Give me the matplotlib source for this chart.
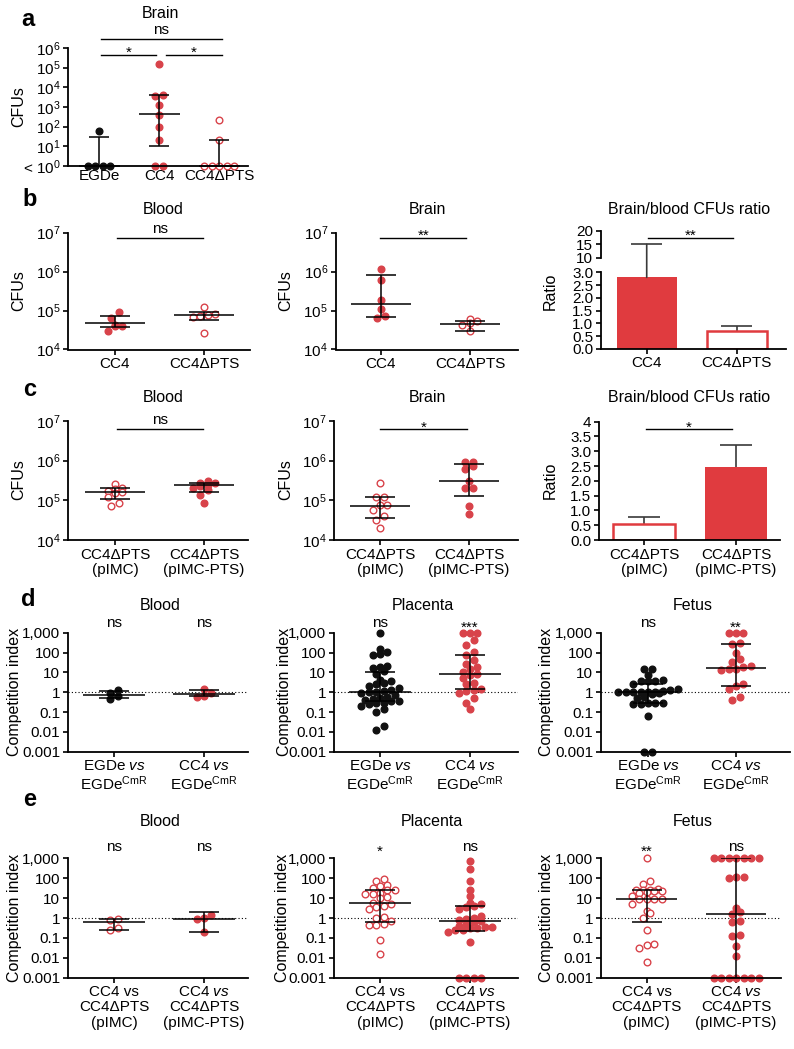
import numpy as np
import matplotlib
matplotlib.use("Agg")
import matplotlib.pyplot as plt
import matplotlib.transforms as mtrans
from matplotlib.patches import ConnectionPatch
from matplotlib.ticker import FixedLocator, NullLocator

W, H, DPI = 794, 1049, 100
RED = "#d8434a"
BAR_RED = "#e03b3f"
ERR_GREY = "#3a3a3a"
FS = 11

plt.rcParams["font.family"] = ["Liberation Sans", "DejaVu Sans"]
plt.rcParams["mathtext.fontset"] = "custom"
plt.rcParams["mathtext.rm"] = "Liberation Sans"
plt.rcParams["mathtext.it"] = "Liberation Sans:italic"
plt.rcParams["mathtext.bf"] = "Liberation Sans:bold"

# ---------------- data ----------------
# a: brain CFUs (1 = below detection limit)
a_groups = ["EGDe", "CC4", "CC4ΔPTS"]
a_egde = [60, 1, 1, 1, 1]
a_cc4 = [1.5e5, 4000, 3700, 1200, 400, 100, 20, 1, 1]
a_pts = [220, 20, 1, 1, 1, 1, 1]
a_med = [1, 420, 1]
a_lo = [1, 10, 1]
a_hi = [31, 4000, 20]

# b: CC4 vs CC4ΔPTS
b_groups = ["CC4", "CC4ΔPTS"]
b_blood_cc4 = [9e4, 6.6e4, 4.3e4, 4.1e4, 3.9e4, 3.0e4]
b_blood_pts = [1.2e5, 8e4, 7.8e4, 7.2e4, 6.8e4, 2.6e4]
b_blood_med = [4.8e4, 7.6e4]
b_blood_lo = [3.8e4, 5.7e4]
b_blood_hi = [7.3e4, 9e4]
b_brain_cc4 = [1.17e6, 6e5, 1.9e5, 1.1e5, 7.3e4, 6.3e4]
b_brain_pts = [6.2e4, 5.4e4, 4.8e4, 4.3e4, 3e4]
b_brain_med = [1.5e5, 4.4e4]
b_brain_lo = [6.8e4, 3e4]
b_brain_hi = [8e5, 5.5e4]
b_ratio = [2.8, 0.71]
b_ratio_err = [15, 0.9]

# c: CC4ΔPTS complemented
c_groups = ["CC4ΔPTS\n(pIMC)", "CC4ΔPTS\n(pIMC-PTS)"]
c_blood_pimc = [2.6e5, 2.0e5, 1.9e5, 1.7e5, 1.6e5, 1.5e5, 1.2e5, 8.8e4, 7.2e4]
c_blood_pts = [3.0e5, 2.8e5, 2.7e5, 2.5e5, 2.3e5, 2.0e5, 1.8e5, 1.4e5, 8.7e4]
c_blood_med = [1.6e5, 2.4e5]
c_blood_lo = [1.05e5, 1.6e5]
c_blood_hi = [2.1e5, 2.8e5]
c_brain_pimc = [2.8e5, 1.2e5, 1.2e5, 7.6e4, 7.6e4, 5.7e4, 4.0e4, 3.2e4, 2.0e4]
c_brain_pts = [9e5, 9e5, 7.5e5, 6e5, 3e5, 2.1e5, 2.1e5, 7e4, 4.4e4]
c_brain_med = [7e4, 3.1e5]
c_brain_lo = [3.5e4, 1.3e5]
c_brain_hi = [1.2e5, 8.3e5]
c_ratio = [0.55, 2.48]
c_ratio_err = [0.79, 3.2]

# d: competition index vs EGDe-CmR
d_groups = ["EGDe $\\mathit{vs}$\nEGDe$^{\\mathrm{CmR}}$",
            "CC4 $\\mathit{vs}$\nEGDe$^{\\mathrm{CmR}}$"]
d_blood_egde = [1.3, 0.9, 0.64, 0.44]
d_blood_cc4 = [1.4, 0.95, 0.65, 0.6]
d_blood_med = [0.75, 0.85]
d_blood_lo = [0.5, 0.65]
d_blood_hi = [1.2, 1.3]
d_plac_egde = [1000, 150, 110, 85, 75, 20, 18, 16, 12, 8, 4, 3.5, 2.8, 2.5, 2,
               1.6, 1.3, 1.1, 1.0, 1.0, 0.9, 0.7, 0.55, 0.5, 0.45, 0.4, 0.38,
               0.35, 0.3, 0.3, 0.25, 0.2, 0.15, 0.1, 0.02, 0.012]
d_plac_cc4 = [1000, 1000, 1000, 450, 250, 110, 75, 40, 25, 18, 15, 10, 8, 7, 5,
              3, 2.5, 1.5, 1.3, 1.2, 0.9, 0.5, 0.3, 0.15]
d_plac_med = [1.0, 8.5]
d_plac_lo = [0.35, 1.4]
d_plac_hi = [11, 75]
d_fet_egde = [15, 14, 7, 4, 3.7, 3.7, 3.5, 2.5, 1.5, 1.3, 1.1, 1, 1, 1, 1, 1, 1,
              0.9, 0.8, 0.6, 0.5, 0.3, 0.28, 0.27, 0.25, 0.25, 0.06, 0.001, 0.001]
d_fet_cc4 = [1000, 1000, 1000, 300, 280, 100, 50, 35, 20, 18, 15, 14, 13, 2.5,
             2, 1.5, 0.55, 0.4]
d_fet_med = [1.0, 17]
d_fet_lo = [0.27, 2]
d_fet_hi = [2.6, 280]

# e: competition index CC4 vs CC4ΔPTS
e_groups = ["CC4 vs\nCC4ΔPTS\n(pIMC)", "CC4 $\\mathit{vs}$\nCC4ΔPTS\n(pIMC-PTS)"]
e_blood_pimc = [0.85, 0.75, 0.3, 0.25]
e_blood_pts = [1.4, 1.0, 0.9, 0.2]
e_blood_med = [0.6, 0.9]
e_blood_lo = [0.25, 0.2]
e_blood_hi = [0.9, 1.9]
e_plac_pimc = [91, 75, 47, 40, 32, 27, 27, 19, 16, 16, 11, 9.7, 5.9, 5, 4, 3.7, 3,
               1.1, 1.0, 0.7, 0.5, 0.46, 0.46, 0.08, 0.015]
e_plac_pts = [750, 300, 75, 25, 13, 6, 5, 4, 3.5, 3, 1.3, 1.0, 0.9, 0.8, 0.7, 0.6,
              0.5, 0.4, 0.35, 0.35, 0.3, 0.3, 0.25, 0.25, 0.2, 0.06,
              0.001, 0.001, 0.001, 0.001]
e_plac_med = [5.5, 0.7]
e_plac_lo = [0.65, 0.23]
e_plac_hi = [27, 4]
e_fet_pimc = [980, 72, 51, 28, 27, 27, 25, 24, 24, 21, 19, 13, 9, 9, 9, 9, 4.9,
              2.2, 1.8, 1.0, 0.25, 0.05, 0.045, 0.03, 0.006]
e_fet_pts = [1000, 1000, 1000, 1000, 1000, 1000, 1000, 120, 110, 105, 3.2, 2,
             1.6, 0.7, 0.6, 0.14, 0.13, 0.04, 0.013,
             0.001, 0.001, 0.001, 0.001, 0.001, 0.001, 0.001]
e_fet_med = [9, 1.5]
e_fet_lo = [0.65, 0.001]
e_fet_hi = [27, 1000]

ci_ticks = [0.001, 0.01, 0.1, 1, 10, 100, 1000]
ci_labels = ["0.001", "0.01", "0.1", "1", "10", "100", "1,000"]

# ---------------- helpers ----------------
fig = plt.figure(figsize=(W / DPI, H / DPI), dpi=DPI)


def fy(y):
    return 1 - y / H


def add_ax(l, t, r, b):
    return fig.add_axes([l / W, 1 - b / H, (r - l) / W, (b - t) / H])


def style(ax, xlim, labels, fs=FS, yfs=FS):
    for s in ("top", "right"):
        ax.spines[s].set_visible(False)
    for s in ("left", "bottom"):
        ax.spines[s].set_linewidth(1.3)
    ax.set_xlim(*xlim)
    ax.set_xticks(range(len(labels)))
    ax.set_xticklabels(labels, fontsize=fs, linespacing=1.1)
    ax.tick_params(axis="both", width=1.2, length=3.5, pad=2)
    ax.tick_params(axis="y", labelsize=yfs)


def log_y(ax, lo, hi, ticks, labels):
    ax.set_yscale("log")
    ax.set_ylim(lo, hi)
    ax.yaxis.set_major_locator(FixedLocator(ticks))
    ax.yaxis.set_minor_locator(NullLocator())
    ax.set_yticklabels(labels)


def swarm(ax, pos, vals, ms):
    d = ms * DPI / 72 * 1.12
    pts = ax.transData.transform(np.column_stack([np.full(len(vals), pos), vals]))
    ys = pts[:, 1]
    order = np.argsort(ys)
    rows = []
    for i in order:
        if rows and ys[i] - ys[rows[-1][0]] < d * 0.75:
            rows[-1].append(i)
        else:
            rows.append([i])
    xs = pts[:, 0].copy()
    for row in rows:
        n = len(row)
        for k, i in enumerate(row):
            xs[i] = pts[i, 0] + (k - (n - 1) / 2) * d
    return ax.transData.inverted().transform(np.column_stack([xs, ys]))[:, 0]


def dots(ax, pos, vals, med, lo, hi, color, filled, ms=4.8):
    xs = swarm(ax, pos, vals, ms)
    ax.plot(xs, vals, "o", ms=ms, mfc=color if filled else "white", mec=color,
            mew=1.0, ls="none", clip_on=False, zorder=2)
    ax.vlines(pos, lo, hi, color="k", lw=1.1, zorder=3)
    ax.hlines([lo, hi], pos - 0.17, pos + 0.17, color="k", lw=1.1, zorder=3)
    ax.hlines(med, pos - 0.34, pos + 0.34, color="k", lw=1.1, zorder=3,
              clip_on=False)


def bars(ax, vals, errs, filled, width=0.67):
    for i, (v, e, f) in enumerate(zip(vals, errs, filled)):
        if f:
            ax.bar(i, v, width=width, color=BAR_RED, lw=0, zorder=2)
        else:
            ax.bar(i, v, width=width, facecolor="white", edgecolor=BAR_RED,
                   lw=1.8, zorder=2)
        ax.vlines(i, v, e, color=ERR_GREY, lw=1.2, zorder=1)
        ax.hlines(e, i - 0.17, i + 0.17, color=ERR_GREY, lw=1.2, zorder=1)


def ftr(ax):
    return mtrans.blended_transform_factory(ax.transData, fig.transFigure)


def bracket(ax, x0, x1, y_px, text, star=False, fs=FS):
    tr = ftr(ax)
    ax.plot([x0, x1], [fy(y_px)] * 2, transform=tr, color="k", lw=1.0,
            clip_on=False)
    if star:
        ax.text((x0 + x1) / 2, fy(y_px + 2), text, transform=tr, ha="center",
                va="baseline", fontsize=fs)
    else:
        ax.text((x0 + x1) / 2, fy(y_px - 5), text, transform=tr, ha="center",
                va="baseline", fontsize=fs)


def mark(ax, x, y_px, text, fs=FS):
    star = "*" in text
    yb = y_px + 9 if star else y_px + 4
    ax.text(x, fy(yb), text, transform=ftr(ax), ha="center", va="baseline",
            fontsize=fs)


def title(x_px, y_px, s, fs=FS + 0.5):
    fig.text(x_px / W, fy(y_px), s, ha="center", va="center", fontsize=fs)


def ylab(x_px, y_px, s, fs=FS + 0.5):
    fig.text(x_px / W, fy(y_px), s, ha="center", va="center", rotation=90,
             fontsize=fs)


def letter(x_px, y_px, s):
    fig.text(x_px / W, fy(y_px), s, ha="center", va="center", fontsize=17,
             fontweight="bold")


cfu_ticks7 = [1e4, 1e5, 1e6, 1e7]
cfu_labels7 = ["10$^{4}$", "10$^{5}$", "10$^{6}$", "10$^{7}$"]

# ---------------- panel a ----------------
ax = add_ax(68, 48, 248, 166)
style(ax, (-0.52, 2.48), a_groups)
log_y(ax, 1, 1e6, [1, 10, 100, 1e3, 1e4, 1e5, 1e6],
      ["< 10$^{0}$", "10$^{1}$", "10$^{2}$", "10$^{3}$", "10$^{4}$",
       "10$^{5}$", "10$^{6}$"])
ax.tick_params(axis="x", length=0)
dots(ax, 0, a_egde, a_med[0], a_lo[0], a_hi[0], "#111111", True)
dots(ax, 1, a_cc4, a_med[1], a_lo[1], a_hi[1], RED, True)
dots(ax, 2, a_pts, a_med[2], a_lo[2], a_hi[2], RED, False)
bracket(ax, 0.03, 2.04, 39, "ns")
bracket(ax, 0.03, 0.95, 55, "*", star=True)
bracket(ax, 1.12, 2.04, 55, "*", star=True)
title(160, 14, "Brain")
ylab(19, 107, "CFUs")
letter(28, 19, "a")

# ---------------- panel b ----------------
ax = add_ax(68, 232.7, 250, 349.5)
style(ax, (-0.528, 1.517), b_groups)
log_y(ax, 1e4, 1e7, cfu_ticks7, cfu_labels7)
dots(ax, 0, b_blood_cc4, b_blood_med[0], b_blood_lo[0], b_blood_hi[0], RED, True)
dots(ax, 1, b_blood_pts, b_blood_med[1], b_blood_lo[1], b_blood_hi[1], RED, False)
bracket(ax, 0.02, 0.99, 237.7, "ns")
title(163, 210, "Blood")
ylab(19, 291, "CFUs")
letter(30, 200, "b")

ax = add_ax(335.7, 232.7, 518, 349.5)
style(ax, (-0.509, 1.54), b_groups)
log_y(ax, 1e4, 1e7, cfu_ticks7, cfu_labels7)
dots(ax, 0, b_brain_cc4, b_brain_med[0], b_brain_lo[0], b_brain_hi[0], RED, True)
dots(ax, 1, b_brain_pts, b_brain_med[1], b_brain_lo[1], b_brain_hi[1], RED, False)
bracket(ax, -0.01, 0.96, 237.7, "**", star=True)
title(427, 210, "Brain")
ylab(286, 291, "CFUs")

ax_lo = add_ax(601, 272.3, 786, 348.8)
ax_hi = add_ax(601, 231, 786, 257.7)
style(ax_lo, (-0.508, 1.548), b_groups)
ax_lo.set_ylim(0, 3.0)
ax_lo.set_yticks(np.arange(0, 3.01, 0.5))
ax_lo.set_yticklabels(["0.0", "0.5", "1.0", "1.5", "2.0", "2.5", "3.0"])
style(ax_hi, (-0.508, 1.548), ["", ""])
ax_hi.spines["bottom"].set_visible(False)
ax_hi.tick_params(axis="x", length=0)
ax_hi.set_ylim(10, 20)
ax_hi.set_yticks([10, 15, 20])
ax_hi.set_yticklabels(["10", "15", "20"])
for i, (v, f) in enumerate(zip(b_ratio, [True, False])):
    if f:
        ax_lo.bar(i, v, width=0.67, color=BAR_RED, lw=0, zorder=2)
    else:
        ax_lo.bar(i, v, width=0.67, facecolor="white", edgecolor=BAR_RED,
                  lw=1.8, zorder=2)
con = ConnectionPatch(xyA=(0, b_ratio[0]), coordsA=ax_lo.transData,
                      xyB=(0, b_ratio_err[0]), coordsB=ax_hi.transData,
                      color=ERR_GREY, lw=1.2, zorder=1)
fig.add_artist(con)
ax_hi.hlines(b_ratio_err[0], -0.17, 0.17, color=ERR_GREY, lw=1.2)
ax_lo.vlines(1, b_ratio[1], b_ratio_err[1], color=ERR_GREY, lw=1.2, zorder=1)
ax_lo.hlines(b_ratio_err[1], 1 - 0.17, 1 + 0.17, color=ERR_GREY, lw=1.2)
bracket(ax_hi, 0.01, 0.96, 237.7, "**", star=True)
title(689, 210, "Brain/blood CFUs ratio")
ylab(550, 291, "Ratio")

# ---------------- panel c ----------------
ax = add_ax(68, 421, 248, 540)
style(ax, (-0.528, 1.494), c_groups)
log_y(ax, 1e4, 1e7, cfu_ticks7, cfu_labels7)
dots(ax, 0, c_blood_pimc, c_blood_med[0], c_blood_lo[0], c_blood_hi[0], RED, False)
dots(ax, 1, c_blood_pts, c_blood_med[1], c_blood_lo[1], c_blood_hi[1], RED, True)
bracket(ax, 0.02, 0.99, 429.3, "ns")
title(163, 398, "Blood")
ylab(19, 480, "CFUs")
letter(30, 389, "c")

ax = add_ax(334, 421, 518, 540)
style(ax, (-0.517, 1.551), c_groups)
log_y(ax, 1e4, 1e7, cfu_ticks7, cfu_labels7)
dots(ax, 0, c_brain_pimc, c_brain_med[0], c_brain_lo[0], c_brain_hi[0], RED, False)
dots(ax, 1, c_brain_pts, c_brain_med[1], c_brain_lo[1], c_brain_hi[1], RED, True)
bracket(ax, 0.0, 0.98, 429.3, "*", star=True)
title(427, 398, "Brain")
ylab(286, 480, "CFUs")

ax = add_ax(599, 421.7, 780, 540)
style(ax, (-0.489, 1.478), c_groups)
ax.set_ylim(0, 4)
ax.set_yticks(np.arange(0, 4.01, 0.5))
ax.set_yticklabels(["0.0", "0.5", "1.0", "1.5", "2.0", "2.5", "3.0", "3.5", "4"])
bars(ax, c_ratio, c_ratio_err, [False, True])
bracket(ax, 0.02, 0.96, 429.3, "*", star=True)
title(689, 398, "Brain/blood CFUs ratio")
ylab(550, 480, "Ratio")

# ---------------- panel d ----------------
d_axes = [(68, 248, (-0.511, 1.489), 15, 160, "Blood",
           d_blood_egde, d_blood_cc4, d_blood_med, d_blood_lo, d_blood_hi, ["ns", "ns"]),
          (334, 518, (-0.511, 1.533), 284, 423, "Placenta",
           d_plac_egde, d_plac_cc4, d_plac_med, d_plac_lo, d_plac_hi, ["ns", "***"]),
          (600.7, 790, (-0.5375, 1.614), 547, 693, "Fetus",
           d_fet_egde, d_fet_cc4, d_fet_med, d_fet_lo, d_fet_hi, ["ns", "**"])]
for l, r, xl, ylx, tx, name, g0, g1, med, lo, hi, sig in d_axes:
    ax = add_ax(l, 632.7, r, 751.7)
    style(ax, xl, d_groups, fs=FS, yfs=FS)
    log_y(ax, 1e-3, 1e3, ci_ticks, ci_labels)
    ax.axhline(1, color="k", lw=0.8, ls=(0, (1, 2)), zorder=1)
    dots(ax, 0, g0, med[0], lo[0], hi[0], "#111111", True)
    dots(ax, 1, g1, med[1], lo[1], hi[1], RED, True)
    mark(ax, 0, 623, sig[0])
    mark(ax, 1, 623, sig[1])
    title(tx, 605, name)
    ylab(ylx, 692, "Competition index")
letter(28, 600, "d")

# ---------------- panel e ----------------
e_axes = [(68, 248, (-0.511, 1.489), 15, 160, "Blood",
           e_blood_pimc, e_blood_pts, e_blood_med, e_blood_lo, e_blood_hi, ["ns", "ns"]),
          (334, 518, (-0.511, 1.533), 282, 432, "Placenta",
           e_plac_pimc, e_plac_pts, e_plac_med, e_plac_lo, e_plac_hi, ["*", "ns"]),
          (600.7, 780.7, (-0.515, 1.499), 547, 693, "Fetus",
           e_fet_pimc, e_fet_pts, e_fet_med, e_fet_lo, e_fet_hi, ["**", "ns"])]
for l, r, xl, ylx, tx, name, g0, g1, med, lo, hi, sig in e_axes:
    ax = add_ax(l, 858.3, r, 977.7)
    style(ax, xl, e_groups, fs=FS, yfs=FS)
    log_y(ax, 1e-3, 1e3, ci_ticks, ci_labels)
    ax.axhline(1, color="k", lw=0.8, ls=(0, (1, 2)), zorder=1)
    dots(ax, 0, g0, med[0], lo[0], hi[0], RED, False)
    dots(ax, 1, g1, med[1], lo[1], hi[1], RED, True)
    mark(ax, 0, 847, sig[0])
    mark(ax, 1, 847, sig[1])
    title(tx, 822, name)
    ylab(ylx, 918, "Competition index")
letter(30, 800, "e")

fig.savefig("out.png", dpi=DPI)
